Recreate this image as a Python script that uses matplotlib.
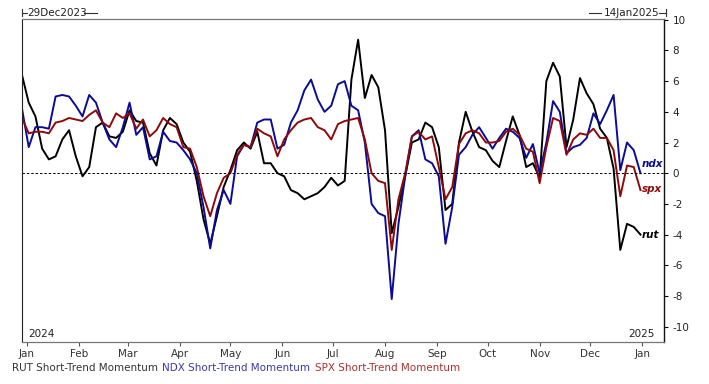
import pandas as pd
import matplotlib
matplotlib.use('Agg')
import matplotlib.pyplot as plt
import matplotlib.dates as mdates
from matplotlib.lines import Line2D

# Short-trend momentum, sampled every 4 days from 29Dec2023
dates = pd.date_range('2023-12-29', periods=93, freq='4D')

rut = [6.4, 4.6, 3.7, 1.6, 0.9, 1.1, 2.2, 2.8, 1.1, -0.2, 0.4, 3.0, 3.3, 2.4, 2.3, 2.7, 4.1,
       3.4, 3.3, 1.3, 0.5, 2.8, 3.6, 3.2, 2.0, 1.4, -0.5, -3.0, -4.6, -2.8, -0.9, 0.2, 1.5,
       2.0, 1.6, 2.7, 0.65, 0.65, 0.0, -0.2, -1.1, -1.3, -1.7, -1.5, -1.3, -0.9, -0.3, -0.8, -0.5,
       6.1, 8.7, 4.9, 6.4, 5.6, 2.8, -3.9, -2.2, -0.2, 2.0, 2.2, 3.3, 3.0, 1.7, -2.4, -2.0, 2.0,
       4.0, 2.7, 1.7, 1.5, 0.8, 0.4, 2.1, 3.7, 2.5, 0.4, 0.65, -0.3, 6.0, 7.2, 6.3,
       1.7, 3.5, 6.2, 5.2, 4.5, 2.9, 2.3, 0.3, -5.0, -3.3, -3.5, -4.0]

ndx = [4.2, 1.7, 3.0, 3.0, 2.9, 5.0, 5.1, 5.0, 4.4, 3.7, 5.1, 4.6, 3.3, 2.2, 1.7, 3.0, 4.6,
       2.5, 3.0, 0.9, 1.1, 2.7, 2.1, 2.0, 1.5, 0.9, 0.0, -2.2, -4.9, -2.4, -1.1, -2.0, 1.1,
       1.85, 1.7, 3.3, 3.5, 3.5, 1.6, 1.85, 3.3, 4.1, 5.4, 6.1, 4.8, 4.0, 4.4, 5.8, 6.0,
       4.4, 4.1, 2.0, -2.0, -2.6, -2.8, -8.2, -3.3, -0.2, 2.4, 2.8, 0.9, 0.65, -0.2, -4.6, -2.2, 1.2,
       1.7, 2.5, 3.0, 2.3, 1.6, 2.3, 2.9, 2.7, 2.3, 1.0, 1.9, 0.0, 2.0, 4.7, 4.0,
       1.3, 1.7, 1.85, 2.3, 3.9, 3.2, 4.1, 5.1, 0.2, 2.0, 1.5, 0.0]

spx = [3.6, 2.6, 2.7, 2.7, 2.6, 3.3, 3.4, 3.6, 3.5, 3.4, 3.8, 4.1, 3.3, 3.0, 3.9, 3.6, 3.9,
       2.9, 3.5, 2.4, 2.8, 3.6, 3.2, 3.0, 1.7, 1.6, 0.4, -1.5, -2.8, -1.3, -0.3, 0.0, 1.2,
       1.85, 1.7, 2.9, 2.6, 2.4, 1.1, 2.2, 2.8, 3.3, 3.5, 3.6, 3.0, 2.8, 2.2, 3.2, 3.4,
       3.5, 3.6, 2.2, 0.0, -0.5, -0.65, -5.0, -1.7, 0.0, 2.4, 2.7, 2.2, 2.4, 0.4, -1.7, -0.9, 1.9,
       2.6, 2.8, 2.6, 2.0, 2.0, 2.1, 2.7, 2.9, 2.5, 1.6, 1.4, -0.65, 1.7, 3.6, 3.4,
       1.2, 2.2, 2.6, 2.5, 2.9, 2.3, 2.3, 1.5, -1.5, 0.5, 0.4, -1.1]

yticks = list(range(-10, 11, 2))

c_rut, c_ndx, c_spx = '#000000', '#0b0b96', '#8e0a0a'

fig = plt.figure(figsize=(7.09, 3.84), dpi=100)
ax = fig.add_axes([22 / 709, 42 / 384, 642 / 709, 323 / 384])

ax.plot(dates, rut, color=c_rut, lw=1.4)
ax.plot(dates, ndx, color=c_ndx, lw=1.4)
ax.plot(dates, spx, color=c_spx, lw=1.4)
ax.axhline(0, color='black', lw=0.7, ls=(0, (2.5, 2)))

ax.set_xlim(pd.Timestamp('2023-12-29'), pd.Timestamp('2025-01-14'))
ax.set_ylim(-11, 10.05)

# right-hand value axis
ax.yaxis.tick_right()
ax.set_yticks(yticks)
ax.set_yticklabels([str(t) for t in yticks])
ax.tick_params(axis='y', direction='out', length=3, width=0.8, pad=3,
               labelsize=7.5, labelcolor='#222222')

ax.xaxis.set_major_locator(mdates.MonthLocator())
ax.xaxis.set_major_formatter(mdates.DateFormatter('%b'))
ax.tick_params(axis='x', direction='out', length=3, width=0.8, pad=2,
               labelsize=7.5, labelcolor='#333333', color='#555555')

for side in ['top', 'bottom']:
    ax.spines[side].set_color('#777777')
    ax.spines[side].set_linewidth(0.9)
ax.spines['left'].set_color('#222222')
ax.spines['right'].set_color('#111111')
ax.spines['right'].set_linewidth(1.0)

# year markers
ax.text(0.01, 0.015, '2024', transform=ax.transAxes, fontsize=7.5, color='#222222')
ax.text(0.945, 0.015, '2025', transform=ax.transAxes, fontsize=7.5, color='#222222')

# series end labels
lbl_x = pd.Timestamp('2025-01-01')
ax.text(lbl_x, 0.6, 'ndx', color=c_ndx, fontsize=7.5, fontweight='bold',
        style='italic', va='center')
ax.text(lbl_x, -1.0, 'spx', color=c_spx, fontsize=7.5, fontweight='bold',
        style='italic', va='center')
ax.text(lbl_x, -4.0, 'rut', color=c_rut, fontsize=7.5, fontweight='bold',
        style='italic', va='center')

# date-range header
def px(x, y):
    return x / 709, 1 - y / 384

for xs, ys in [([22, 22], [9, 16]), ([22, 27], [12.5, 12.5]), ([84, 97], [12.5, 12.5]),
               ([589, 601], [12.5, 12.5]), ([659, 666], [12.5, 12.5]), ([666, 666], [9, 16])]:
    p0, p1 = px(xs[0], ys[0]), px(xs[1], ys[1])
    fig.add_artist(Line2D([p0[0], p1[0]], [p0[1], p1[1]], color='#333333', lw=0.8))
fig.text(*px(27, 12.5), '29Dec2023', fontsize=7.5, color='#222222', va='center')
fig.text(*px(659, 12.5), '14Jan2025', fontsize=7.5, color='#222222', va='center', ha='right')

# legend line
fig.text(*px(12, 368), 'RUT Short-Trend Momentum', fontsize=7.5, color='#333333', va='center')
fig.text(*px(162, 368), 'NDX Short-Trend Momentum', fontsize=7.5, color='#3a3aa6', va='center')
fig.text(*px(315, 368), 'SPX Short-Trend Momentum', fontsize=7.5, color='#a83232', va='center')

fig.savefig('out.png', dpi=100)
